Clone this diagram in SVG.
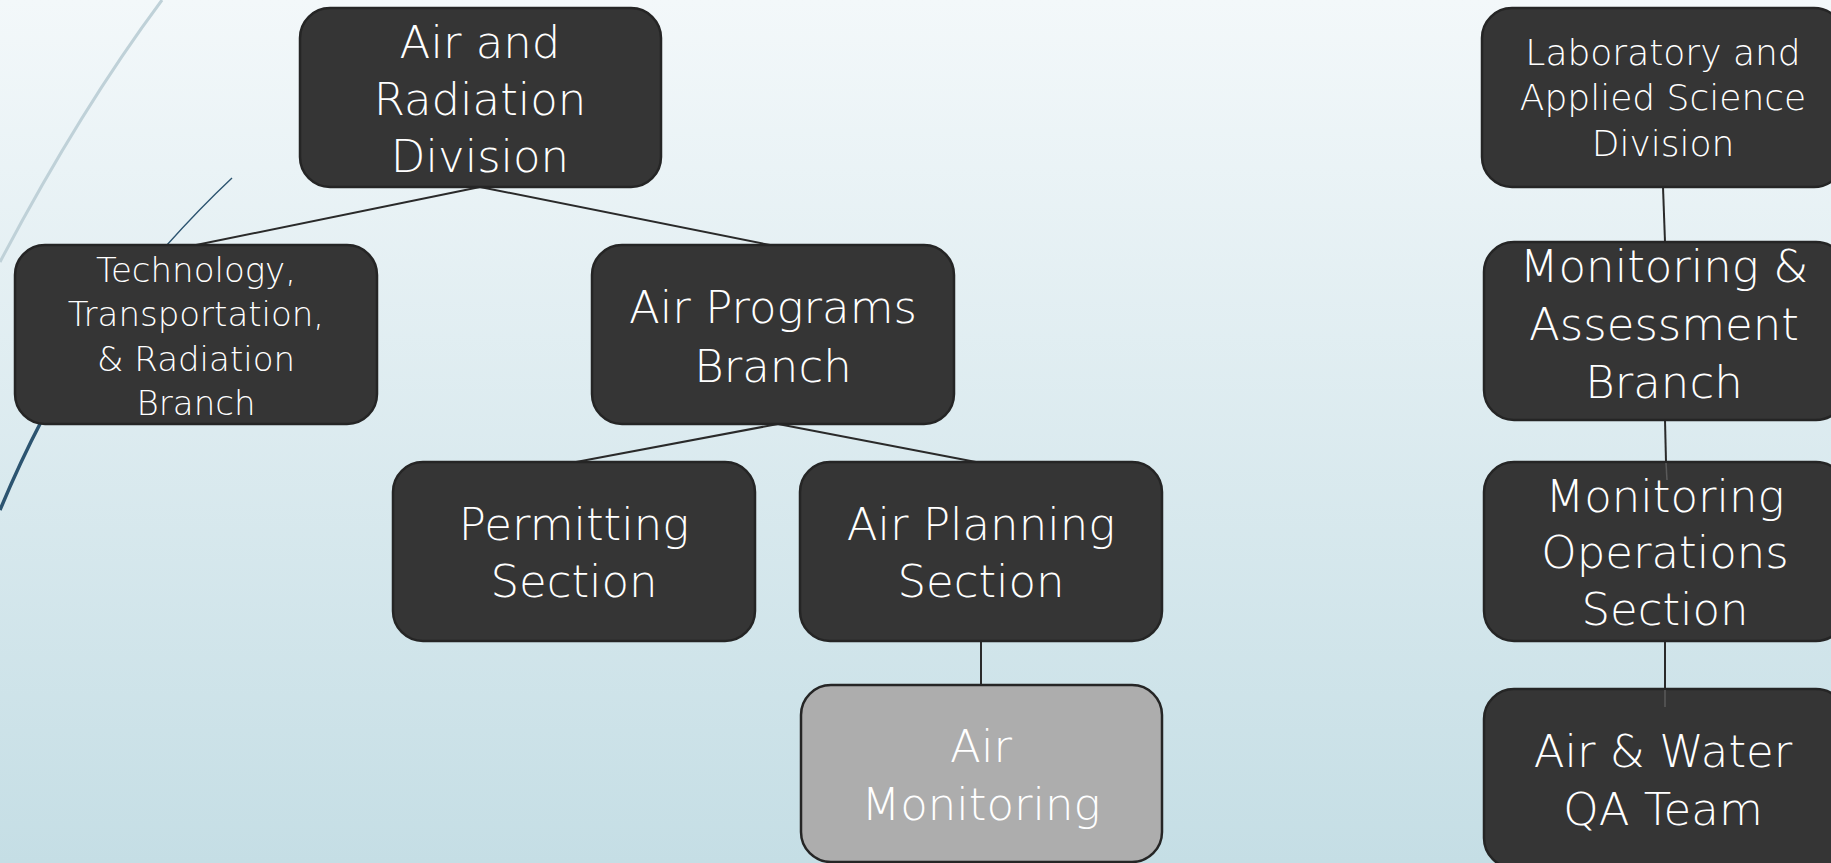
<svg xmlns="http://www.w3.org/2000/svg" width="1831" height="863" viewBox="0 0 1831 863">
<defs>
<linearGradient id="bg" x1="0" y1="0" x2="0" y2="1">
<stop offset="0" stop-color="#f3f8fa"/>
<stop offset="1" stop-color="#c5dee5"/>
</linearGradient>
<style>
.box{fill:#353535;stroke:#252525;stroke-width:2.5}
.box.grey{fill:#adadad}
.t{fill:#ffffff;font-family:"Century Gothic","DejaVu Sans","Liberation Sans",sans-serif;font-weight:200;text-anchor:middle}
.big{font-size:45px}
.small{font-size:34px}
.conn{stroke:#2a2a2a;stroke-width:2;fill:none}
.over{stroke:#5a5a5a;stroke-width:1.5;fill:none}
</style>
</defs>
<rect width="1831" height="863" fill="url(#bg)"/>
<g id="decor" fill="none">
<path d="M162,0 Q80,110 0,262" stroke="#bfd1d8" stroke-width="3"/>
<path d="M232,178 Q200,208 166,246" stroke="#2c5470" stroke-width="1.4"/>
<path d="M42,420 Q20,462 0,510" stroke="#2c5470" stroke-width="3.5"/>
</g>
<g id="connectors">
<path class="conn" d="M480,187 L196,245"/>
<path class="conn" d="M480,187 L770,245"/>
<path class="conn" d="M778,424 L576,462"/>
<path class="conn" d="M778,424 L976,462"/>
<path class="conn" d="M981,641 L981,685"/>
<path class="conn" d="M1663,187 L1665,242"/>
<path class="conn" d="M1665,420 L1666,462"/>
<path class="conn" d="M1665,641 L1665,689"/>
</g>
<g id="n-ard">
<rect class="box" x="300" y="8" width="361" height="179" rx="30"/>
<text class="t big" x="480" y="58">Air and</text>
<text class="t big" x="480" y="115">Radiation</text>
<text class="t big" x="480" y="172">Division</text>
</g>
<g id="n-tech">
<rect class="box" x="15" y="245" width="362" height="179" rx="30"/>
<text class="t small" x="196" y="282">Technology,</text>
<text class="t small" x="196" y="326">Transportation,</text>
<text class="t small" x="196" y="371">&amp; Radiation</text>
<text class="t small" x="196" y="415">Branch</text>
</g>
<g id="n-apb">
<rect class="box" x="592" y="245" width="362" height="179" rx="30"/>
<text class="t big" x="773" y="323">Air Programs</text>
<text class="t big" x="773" y="382">Branch</text>
</g>
<g id="n-perm">
<rect class="box" x="393" y="462" width="362" height="179" rx="30"/>
<text class="t big" x="574" y="540">Permitting</text>
<text class="t big" x="574" y="597">Section</text>
</g>
<g id="n-aps">
<rect class="box" x="800" y="462" width="362" height="179" rx="30"/>
<text class="t big" x="981" y="540">Air Planning</text>
<text class="t big" x="981" y="597">Section</text>
</g>
<g id="n-am">
<rect class="box grey" x="801" y="685" width="361" height="177" rx="30"/>
<text class="t big" x="981" y="762">Air</text>
<text class="t big" x="981" y="820">Monitoring</text>
</g>
<g id="n-lab">
<rect class="box" x="1482" y="8" width="362" height="179" rx="30"/>
<text class="t" font-size="36" x="1663" y="65">Laboratory and</text>
<text class="t" font-size="36" x="1663" y="110">Applied Science</text>
<text class="t" font-size="36" x="1663" y="156">Division</text>
</g>
<g id="n-ma">
<rect class="box" x="1484" y="242" width="362" height="178" rx="30"/>
<text class="t big" x="1664" y="282">Monitoring &amp;</text>
<text class="t big" x="1664" y="340">Assessment</text>
<text class="t big" x="1664" y="398">Branch</text>
</g>
<g id="n-mo">
<rect class="box" x="1484" y="462" width="362" height="179" rx="30"/>
<text class="t big" x="1665" y="512">Monitoring</text>
<text class="t big" x="1665" y="568">Operations</text>
<text class="t big" x="1665" y="625">Section</text>
</g>
<g id="n-awqa">
<rect class="box" x="1484" y="689" width="362" height="179" rx="30"/>
<text class="t big" x="1663" y="767">Air &amp; Water</text>
<text class="t big" x="1663" y="825">QA Team</text>
</g>
<g id="connector-overlaps">
<path class="over" d="M1666,463 L1667,480"/>
<path class="over" d="M1665,690 L1665,707"/>
</g>
</svg>
